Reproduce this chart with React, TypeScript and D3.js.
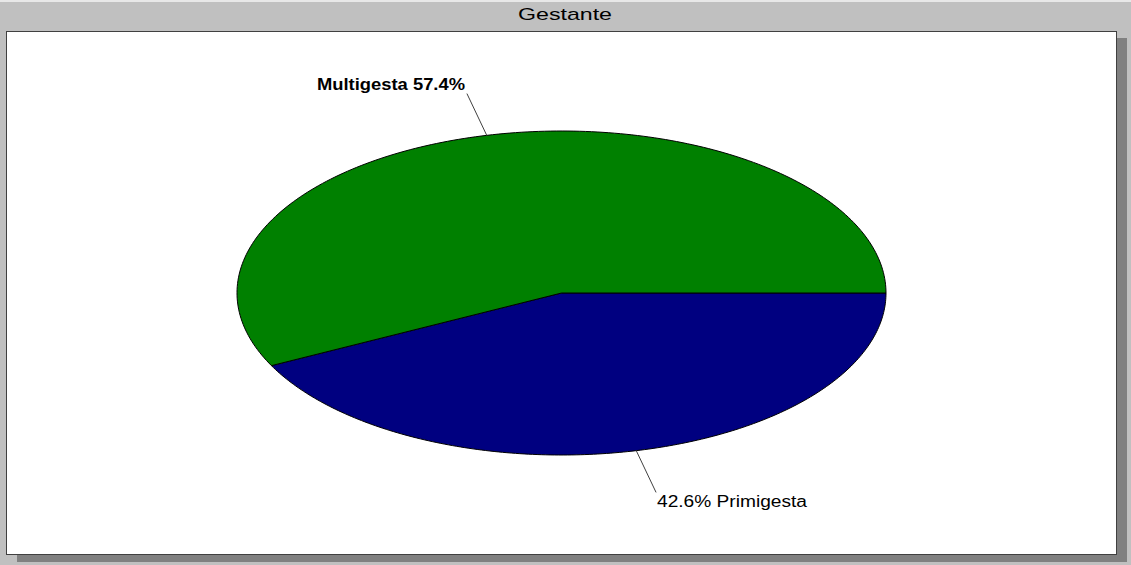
import React from "react";
import * as d3 from "d3";

const categories = ["Primigesta", "Multigesta"];
const values = [42.6, 57.4];
const colors = ["#000080", "#008000"];
const title = "Gestante";

const W = 1131;
const H = 565;

export default function App() {
  const cx = 561.5;
  const cy = 293;
  const rx = 324.5;
  const ry = 162;

  const total = d3.sum(values);
  const angle = d3.scaleLinear().domain([0, total]).range([0, 2 * Math.PI]);
  let acc = 0;
  const slices = values.map((v, i) => {
    const a0 = angle(acc);
    acc += v;
    const a1 = angle(acc);
    return { v, i, a0, a1, mid: (a0 + a1) / 2 };
  });

  // unit-circle arc then scaled into ellipse; angle measured clockwise from 3 o'clock
  const pathFor = (a0: number, a1: number) => {
    const p = d3.path();
    p.moveTo(0, 0);
    const steps = 200;
    for (let k = 0; k <= steps; k++) {
      const a = a0 + ((a1 - a0) * k) / steps;
      p.lineTo(Math.cos(a), Math.sin(a));
    }
    p.closePath();
    return p.toString();
  };

  const k = 1.265;

  return (
    <svg
      width={W}
      height={H}
      style={{ position: "absolute", left: 0, top: 0, display: "block" }}
      fontFamily="Liberation Sans, Arial, sans-serif"
    >
      <rect x={0} y={0} width={W} height={H} fill="#c0c0c0" />
      <rect x={0} y={0} width={W} height={2} fill="#e8e8e8" />
      <text x={565} y={20} textAnchor="middle" fontSize={17} fill="#000" textLength={94} lengthAdjust="spacingAndGlyphs">
        {title}
      </text>
      {/* shadow */}
      <rect x={17} y={38} width={1110} height={524} fill="#808080" />
      {/* panel */}
      <rect x={6.5} y={31.5} width={1110} height={523} fill="#fff" stroke="#404040" strokeWidth={1} />
      <g transform={`translate(${cx},${cy})`}>
        {slices.map((s) => (
          <path
            key={s.i}
            d={pathFor(s.a0, s.a1)}
            transform={`scale(${rx},${ry})`}
            fill={colors[s.i]}
            stroke="#000"
            strokeWidth={1}
            vectorEffect="non-scaling-stroke"
          />
        ))}
        {slices.map((s) => {
          const ex = Math.cos(s.mid) * rx;
          const ey = Math.sin(s.mid) * ry;
          return (
            <line
              key={"l" + s.i}
              x1={ex}
              y1={ey}
              x2={ex * k}
              y2={ey * k}
              stroke="#404040"
              strokeWidth={1}
            />
          );
        })}
      </g>
      {slices.map((s) => {
        const lx = cx + Math.cos(s.mid) * rx * k;
        const ly = cy + Math.sin(s.mid) * ry * k;
        const up = Math.sin(s.mid) < 0;
        const label = up
          ? `${categories[s.i]} ${values[s.i].toFixed(1)}%`
          : `${values[s.i].toFixed(1)}% ${categories[s.i]}`;
        return (
          <text
            key={"t" + s.i}
            x={up ? 465 : 657}
            y={up ? ly - 3.5 : ly + 14.5}
            textAnchor={up ? "end" : "start"}
            fontSize={16}
            fontWeight={up ? "bold" : "normal"}
            fill="#000"
            textLength={up ? 148 : 150}
            lengthAdjust="spacingAndGlyphs"
          >
            {label}
          </text>
        );
      })}
    </svg>
  );
}
